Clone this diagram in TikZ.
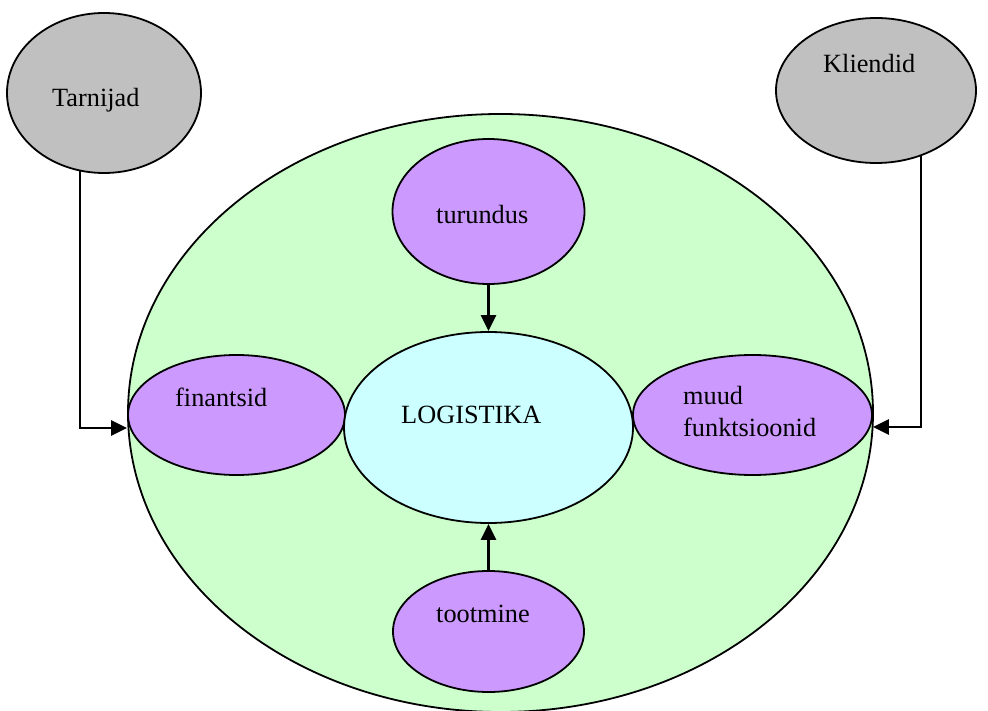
\documentclass[tikz,border=0pt]{standalone}
\usepackage{fontspec}
\setmainfont{Liberation Serif}
\usetikzlibrary{shapes.geometric,arrows.meta,backgrounds}
\definecolor{rimgreen}{HTML}{CCFFCC}
\definecolor{unitviolet}{HTML}{CC99FF}
\definecolor{corecyan}{HTML}{CCFFFF}
\definecolor{partygray}{HTML}{C0C0C0}
\begin{document}
\begin{tikzpicture}[x=1pt,y=-1pt,
  blob/.style={ellipse,draw=black,line width=1.8pt,inner sep=0pt},
  party/.style={blob,fill=partygray},
  unit/.style={blob,fill=unitviolet},
  caption/.style={anchor=base west,inner sep=0pt,font=\fontsize{26.3}{30}\selectfont,text=black},
  flow/.style={line width=2.4pt,-{Triangle[length=16pt,width=15pt]}}]
\useasboundingbox (0,0) rectangle (988,711);

% the enterprise as a whole
\begin{scope}[on background layer]
  \node[blob,fill=rimgreen,minimum width=745pt,minimum height=598pt] (rim) at (500.5,413) {};
\end{scope}

% outside parties
\node[party,minimum width=194pt,minimum height=160pt] (tarn) at (104,93) {};
\node[party,minimum width=200pt,minimum height=145pt] (klie) at (876,90.5) {};

% functions of the enterprise
\node[unit,minimum width=192pt,minimum height=145pt] (turu) at (488.5,211.5) {};
\node[unit,minimum width=217pt,minimum height=120pt] (fin) at (236.5,415) {};
\node[unit,minimum width=239pt,minimum height=120pt] (muud) at (752.5,415) {};
\node[unit,minimum width=191pt,minimum height=121pt] (toot) at (488.5,631.5) {};
\node[blob,fill=corecyan,minimum width=289pt,minimum height=191pt] (logi) at (488.5,427.5) {};

% labels
\node[caption] (tarn-t) at (52,107) {Tarnijad};
\node[caption] (klie-t) at (823,73) {Kliendid};
\node[caption] (turu-t) at (436,224) {turundus};
\node[caption] (fin-t) at (175,406) {finantsid};
\node[caption] (muud-t) at (683,404) {muud};
\node[caption] (muud-t2) at (683,436) {funktsioonid};
\node[caption] (logi-t) at (401,423) {LOGISTIKA};
\node[caption] (toot-t) at (436,622) {tootmine};

% flows from outside, tucked under the grey ellipses
\coordinate (tarnbend) at (80,428);
\coordinate (kliebend) at (921,427);
\begin{scope}[on background layer]
  \draw[flow] (tarn.center -| tarnbend) -- (tarnbend) -- (fin.west |- tarnbend);
  \draw[flow] (klie.center -| kliebend) -- (kliebend) -- (muud.east |- kliebend);
\end{scope}

% flows into logistics
\draw[flow] (turu.south) -- (logi.north);
\draw[flow] (toot.north) -- (logi.south);
\end{tikzpicture}
\end{document}
